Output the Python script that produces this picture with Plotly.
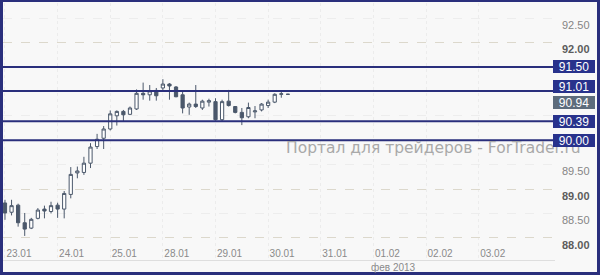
import plotly.graph_objects as go

# ---- data ----
opens  = [88.715, 88.525, 88.67, 88.31, 88.20, 88.40, 88.59, 88.54, 88.67, 88.59,
          88.89, 89.33, 89.34, 89.53, 89.87, 90.04, 90.23, 90.50, 90.59, 90.53,
          90.64, 90.96, 90.93, 91.02, 91.07, 91.15, 91.09, 90.93, 90.68, 90.74,
          90.66, 90.78, 90.79, 90.42, 90.80, 90.69, 90.57, 90.48, 90.58, 90.62,
          90.71, 90.78, 90.94, 90.94]
highs  = [88.78, 88.78, 88.70, 88.51, 88.41, 88.61, 88.66, 88.74, 88.72, 88.96,
          89.45, 89.46, 89.66, 89.94, 90.13, 90.29, 90.61, 90.61, 90.62, 90.69,
          91.04, 91.18, 91.13, 91.07, 91.25, 91.17, 91.11, 91.00, 90.77, 91.13,
          90.83, 90.85, 90.86, 90.83, 91.03, 90.70, 90.66, 90.77, 90.70, 90.76,
          90.83, 90.96, 91.00, 90.95]
lows   = [88.37, 88.46, 88.23, 88.04, 88.18, 88.38, 88.40, 88.50, 88.41, 88.40,
          88.81, 89.22, 89.29, 89.43, 89.82, 89.82, 90.20, 90.30, 90.38, 90.52,
          90.62, 90.83, 90.81, 90.81, 91.00, 90.83, 90.88, 90.55, 90.52, 90.66,
          90.62, 90.69, 90.40, 90.38, 90.69, 90.55, 90.31, 90.45, 90.45, 90.59,
          90.66, 90.76, 90.87, 90.93]
closes = [88.51, 88.66, 88.31, 88.18, 88.38, 88.57, 88.55, 88.66, 88.59, 88.91,
          89.30, 89.37, 89.53, 89.86, 90.02, 90.23, 90.54, 90.59, 90.52, 90.66,
          90.96, 90.93, 91.01, 90.91, 91.15, 91.11, 90.89, 90.66, 90.74, 90.69,
          90.80, 90.81, 90.42, 90.79, 90.71, 90.57, 90.46, 90.67, 90.60, 90.74,
          90.78, 90.94, 90.95, 90.94]
candle_x = list(range(len(opens)))

day_ticks = [0, 8, 16, 24, 32, 40, 48, 56, 64, 72]
day_labels = ["23.01", "24.01", "25.01", "28.01", "29.01", "30.01",
              "31.01", "01.02", "02.02", "03.02"]
month_label = "фев 2013"

y_ticks = [88.0, 88.5, 89.0, 89.5, 90.0, 90.5, 91.0, 91.5, 92.0, 92.5]
# labels hidden behind the price boxes in the reference
y_hidden = [90.0, 90.5, 91.0, 91.5]
y_major = [88.0, 89.0, 90.0, 91.0, 92.0]

levels = [91.50, 91.01, 90.39, 90.00]
level_shift = [0, 4, 0, 0]
last_price = 90.94

watermark = "Портал для трейдеров - ForTrader.ru"

# ---- style ----
NAVY = "#2a2f7c"
BOX = "#28328c"
CANDLE = "#4b586b"
BG = "#f8f8f8"

W, H = 600, 275
ML, MR, MT, MB = 3, 45, 3, 15
PW, PH = W - ML - MR, H - MT - MB


def px_x(p):
    return (p - ML) / PW


def px_y(p):
    return (H - MB - p) / PH


def ytext(v):
    if v in y_hidden:
        return ""
    s = f"{v:.2f}"
    if float(v).is_integer():
        return f"<b><span style='color:#5c5c5c'>{s}</span></b>"
    return f"<span style='color:#858585'>{s}</span>"


fig = go.Figure()
fig.add_trace(go.Candlestick(
    x=candle_x, open=opens, high=highs, low=lows, close=closes,
    increasing=dict(line=dict(color=CANDLE, width=1), fillcolor="#ffffff"),
    decreasing=dict(line=dict(color=CANDLE, width=1), fillcolor=CANDLE),
    whiskerwidth=0, showlegend=False, hoverinfo="skip",
))
# invisible helper trace for the integer gridline axis
fig.add_trace(go.Scatter(x=[candle_x[0]], y=[opens[0]], yaxis="y2",
                         mode="markers", marker=dict(opacity=0),
                         showlegend=False, hoverinfo="skip"))

yr = [87.547, 92.81]
fig.update_layout(
    width=W, height=H,
    margin=dict(l=ML, r=MR, t=MT, b=MB, pad=0),
    paper_bgcolor=BG, plot_bgcolor=BG,
    font=dict(family="Liberation Sans", color="#858585"),
    xaxis=dict(
        range=[-0.30, 83.6], rangeslider=dict(visible=False),
        tickmode="array", tickvals=day_ticks, ticktext=day_labels,
        ticklabelposition="inside", ticklabelshift=14, ticks="",
        tickfont=dict(size=10, color="#8a8a8a"),
        showgrid=True, gridcolor="#ececec", griddash="dot", gridwidth=1,
        showline=True, linecolor="#dedede", linewidth=1,
        zeroline=False, fixedrange=True,
    ),
    yaxis=dict(
        side="right", range=yr,
        tickmode="array", tickvals=y_ticks, ticktext=[ytext(v) for v in y_ticks],
        ticks="", ticklabelstandoff=6, ticklabelshift=7,
        tickfont=dict(size=11),
        showgrid=True, gridcolor="#ededed", griddash="dash",
        zeroline=False, showline=False,
    ),
    yaxis2=dict(
        overlaying="y", side="right", range=yr,
        tickmode="array", tickvals=y_major, showticklabels=False, ticks="",
        showgrid=True, gridcolor="#dcd8cc", griddash="dash", gridwidth=1,
        zeroline=False, showline=False,
    ),
)

# horizontal level lines
for lv in levels:
    fig.add_shape(type="line", xref="paper", yref="y", x0=0, x1=px_x(553), y0=lv, y1=lv,
                  line=dict(color=NAVY, width=2), layer="above")

annotations = []
annotations.append(dict(
    text=watermark, xref="paper", yref="paper", x=px_x(284), y=px_y(148),
    xanchor="left", yanchor="middle", showarrow=False,
    font=dict(family="DejaVu Sans", size=15.5, color="#a9a9a9"),
))
for lv, sh in zip(levels, level_shift):
    annotations.append(dict(
        text=f"{lv:.2f}", xref="paper", yref="y", x=px_x(553), y=lv, yshift=sh,
        xanchor="left", yanchor="middle", showarrow=False,
        width=42, height=13, bgcolor=BOX, borderpad=0, borderwidth=0,
        font=dict(family="Liberation Sans", size=12, color="#ffffff"),
    ))
annotations.append(dict(
    text=f"{last_price:.2f}", xref="paper", yref="y", x=px_x(553), y=last_price, yshift=-8,
    xanchor="left", yanchor="middle", showarrow=False,
    width=42, height=13, bgcolor="#5d6c7c", borderpad=0, borderwidth=0,
    font=dict(family="Liberation Sans", size=12, color="#ffffff"),
))
annotations.append(dict(
    text=month_label, xref="x", yref="paper", x=59, y=px_y(267),
    xanchor="center", yanchor="middle", showarrow=False,
    font=dict(family="Liberation Sans", size=10, color="#8a8a8a"),
))
fig.update_layout(annotations=annotations)

# outer frame
fig.add_shape(type="rect", xref="paper", yref="paper",
              x0=px_x(1.5), x1=px_x(598.5), y0=px_y(273.5), y1=px_y(0.5),
              line=dict(color=NAVY, width=3), fillcolor="rgba(0,0,0,0)", layer="above")

fig.write_html("out.html")
